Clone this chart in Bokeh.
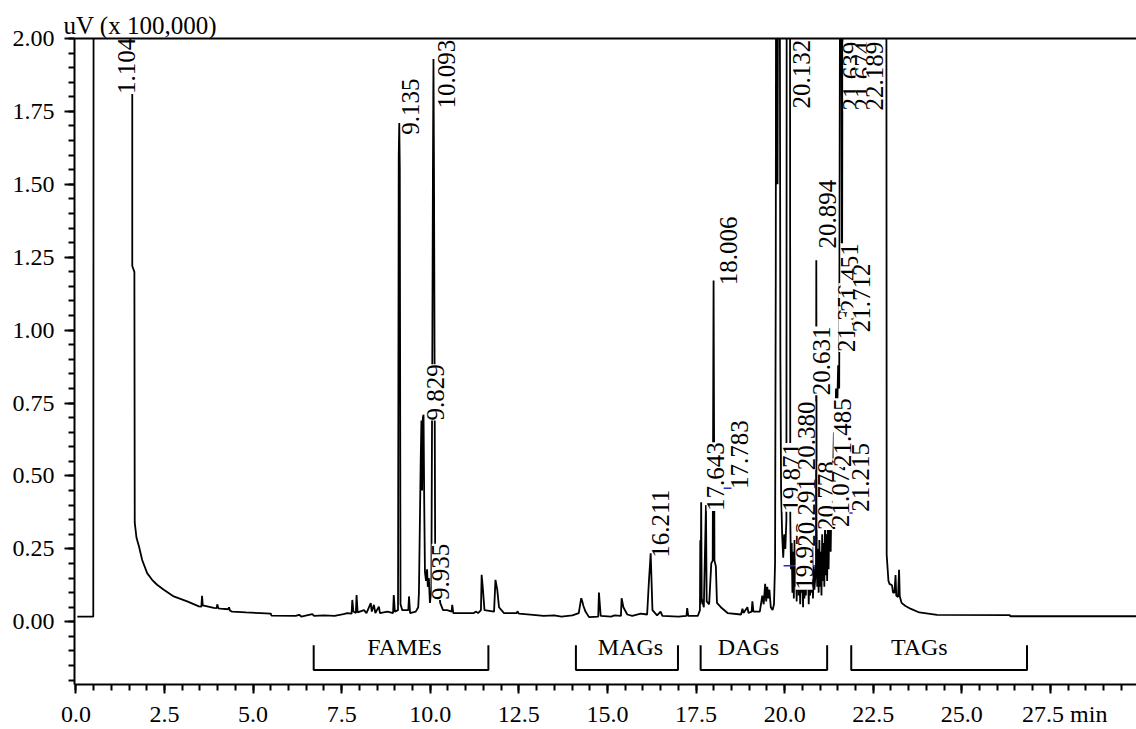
import math
from bokeh.plotting import figure
from bokeh.models import (FixedTicker, NumeralTickFormatter, LinearAxis,
                          ColumnDataSource, Range1d)
from bokeh.core.properties import value
from bokeh.embed import file_html
from bokeh.resources import INLINE

FONT = "Liberation Serif"

# ---------------- chromatogram trace (min, uV x 100,000) ----------------
time_min = [
    0.04, 0.49, 0.50, 1.59, 1.59, 1.65, 1.66, 1.71, 1.78, 1.87, 2.01, 2.15, 2.29, 2.48,
    2.76, 3.14, 3.47, 3.54, 3.56, 3.58, 3.89, 3.97, 3.99, 4.02, 4.08, 4.30, 4.32, 4.35,
    4.41, 4.80, 5.21, 5.50, 5.52, 6.20, 6.30, 6.36, 6.67, 6.72, 7.00, 7.30, 7.55, 7.66,
    7.78, 7.80, 7.83, 7.90, 7.92, 7.95, 8.13, 8.20, 8.32, 8.35, 8.41, 8.45, 8.55, 8.58,
    8.79, 8.95, 8.97, 9.00, 9.09, 9.11, 9.125, 9.14, 9.16, 9.21, 9.38, 9.40, 9.43, 9.59,
    9.66, 9.68, 9.70, 9.73, 9.75, 9.77, 9.79, 9.81, 9.83, 9.85, 9.88, 9.91, 9.93, 9.96,
    9.99, 10.03, 10.06, 10.075, 10.09, 10.105, 10.12, 10.14, 10.17, 10.21, 10.24, 10.28,
    10.36, 10.48, 10.60, 10.62, 10.65, 11.23, 11.28, 11.35, 11.43, 11.45, 11.48, 11.53,
    11.80, 11.84, 11.89, 11.94, 12.08, 12.44, 12.46, 12.50, 12.90, 13.20, 13.50, 13.70,
    14.01, 14.19, 14.26, 14.29, 14.32, 14.38, 14.48, 14.74, 14.76, 14.81, 15.10, 15.20,
    15.38, 15.40, 15.45, 15.56, 15.70, 15.94, 16.12, 16.17, 16.22, 16.27, 16.40, 16.50,
    16.55, 17.00, 17.23, 17.25, 17.28, 17.55, 17.61, 17.62, 17.63, 17.645, 17.66, 17.72,
    17.78, 17.80, 17.87, 17.93, 17.97, 17.995, 18.02, 18.06, 18.09, 18.20, 18.39, 18.77,
    18.81, 18.84, 18.95, 18.98, 19.07, 19.09, 19.12, 19.30, 19.37, 19.41, 19.45, 19.48,
    19.51, 19.54, 19.57, 19.61, 19.66, 19.70, 19.73, 19.75, 19.76, 19.79, 19.80, 19.82,
    19.86, 19.88, 19.90, 19.93, 19.96, 19.99, 20.02, 20.05, 20.06, 20.15, 20.16, 20.18,
    20.20, 20.22, 20.24, 20.26, 20.28, 20.30, 20.32, 20.34, 20.36, 20.38, 20.40, 20.42,
    20.44, 20.46, 20.48, 20.50, 20.52, 20.54, 20.56, 20.58, 20.60, 20.62, 20.64, 20.66,
    20.68, 20.70, 20.72, 20.74, 20.76, 20.78, 20.80, 20.82, 20.84, 20.87, 20.885, 20.894,
    20.905, 20.92, 20.94, 20.96, 20.98, 21.00, 21.02, 21.04, 21.06, 21.08, 21.10, 21.12,
    21.14, 21.16, 21.18, 21.20, 21.22, 21.24, 21.27, 21.30, 21.33, 21.36, 21.39, 21.42,
    21.45, 21.48, 21.51, 21.54, 21.57, 21.60, 21.62, 21.64, 22.87, 22.88, 22.93, 22.96,
    23.03, 23.06, 23.10, 23.13, 23.15, 23.20, 23.23, 23.25, 23.30, 23.40, 23.55, 23.80,
    24.30, 26.35, 26.37, 29.95,
]
signal = [
    0.018, 0.018, 2.60, 2.60, 1.22, 1.20, 0.340, 0.288, 0.258, 0.212, 0.167, 0.144, 0.127, 0.110,
    0.087, 0.070, 0.053, 0.052, 0.089, 0.056, 0.048, 0.047, 0.060, 0.046, 0.045, 0.043, 0.050, 0.038,
    0.035, 0.032, 0.030, 0.028, 0.021, 0.020, 0.024, 0.018, 0.026, 0.020, 0.022, 0.020, 0.026, 0.030,
    0.028, 0.075, 0.035, 0.030, 0.092, 0.032, 0.040, 0.030, 0.064, 0.035, 0.058, 0.030, 0.052, 0.030,
    0.035, 0.030, 0.092, 0.035, 0.040, 1.60, 1.71, 1.55, 0.060, 0.040, 0.040, 0.087, 0.030, 0.035,
    0.050, 0.100, 0.280, 0.550, 0.690, 0.450, 0.700, 0.710, 0.400, 0.170, 0.140, 0.180, 0.120, 0.150,
    0.065, 0.100, 1.00, 1.55, 1.93, 1.55, 0.950, 0.160, 0.140, 0.110, 0.130, 0.065,
    0.040, 0.040, 0.035, 0.058, 0.030, 0.030, 0.035, 0.030, 0.040, 0.161, 0.120, 0.040,
    0.035, 0.144, 0.110, 0.050, 0.030, 0.030, 0.036, 0.028, 0.024, 0.020, 0.022, 0.018,
    0.022, 0.030, 0.081, 0.070, 0.055, 0.035, 0.016, 0.018, 0.100, 0.020, 0.018, 0.022,
    0.020, 0.081, 0.050, 0.025, 0.020, 0.028, 0.025, 0.138, 0.235, 0.040, 0.022, 0.035,
    0.020, 0.018, 0.020, 0.047, 0.020, 0.020, 0.040, 0.280, 0.060, 0.410, 0.080, 0.050,
    0.400, 0.070, 0.060, 0.200, 0.210, 1.17, 0.210, 0.190, 0.065, 0.050, 0.030, 0.025,
    0.045, 0.030, 0.050, 0.030, 0.035, 0.070, 0.035, 0.035, 0.090, 0.060, 0.130, 0.070,
    0.120, 0.080, 0.110, 0.050, 0.040, 0.060, 0.200, 1.20, 2.60, 2.60, 1.50, 2.60,
    2.60, 0.900, 0.450, 0.300, 0.220, 0.300, 0.250, 0.350, 2.60, 2.60, 0.350, 0.180,
    0.270, 0.100, 0.240, 0.080, 0.280, 0.120, 0.220, 0.070, 0.200, 0.300, 0.090, 0.180,
    0.060, 0.210, 0.100, 0.170, 0.050, 0.190, 0.080, 0.230, 0.090, 0.260, 0.110, 0.200,
    0.060, 0.180, 0.090, 0.220, 0.100, 0.270, 0.080, 0.190, 0.110, 0.160, 0.200, 1.24,
    0.220, 0.120, 0.250, 0.100, 0.280, 0.120, 0.240, 0.090, 0.300, 0.140, 0.270, 0.120,
    0.330, 0.160, 0.300, 0.140, 0.360, 0.180, 0.400, 0.240, 0.500, 0.450, 0.650, 0.550,
    0.800, 0.700, 0.880, 0.800, 2.60, 2.60, 1.05, 2.60, 2.60, 0.230, 0.140, 0.130,
    0.125, 0.100, 0.100, 0.160, 0.090, 0.085, 0.178, 0.087, 0.065, 0.055, 0.045, 0.032,
    0.024, 0.023, 0.019, 0.019,
]

# ---------------- retention-time labels ----------------
peak_labels = ["1.104", "9.135", "10.093", "9.829", "9.935", "16.211", "17.643", "17.783",
               "18.006", "19.871", "19.952", "20.132", "20.291", "20.380", "20.631", "20.778",
               "20.894", "21.074", "21.215", "21.485", "21.359", "21.451", "21.712", "21.639",
               "21.674", "22.189"]
label_time = [1.20, 9.19, 10.23, 9.92, 10.04, 16.27, 17.80, 18.50,
              18.19, 19.94, 20.31, 20.23, 20.37, 20.39, 20.79, 20.93,
              20.96, 21.35, 21.89, 21.38, 21.52, 21.58, 21.94, 21.66,
              22.00, 22.31]
label_height = [1.810, 1.670, 1.760, 0.690, 0.075, 0.220, 0.380, 0.455,
                1.154, 0.377, 0.110, 1.760, 0.257, 0.520, 0.777, 0.315,
                1.280, 0.325, 0.377, 0.531, 0.925, 1.062, 0.993, 1.753,
                1.753, 1.753]

# integration baselines (blue)
base_t0 = [18.10, 19.97, 21.49]
base_t1 = [18.62, 20.87, 21.92]
base_y0 = [0.458, 0.192, 0.373]
base_y1 = [0.458, 0.192, 0.373]

# ---------------- lipid class groups ----------------
group_names = ["FAMEs", "MAGs", "DAGs", "TAGs"]
group_start = [6.71, 14.11, 17.63, 21.88]
group_end = [11.64, 16.99, 21.20, 26.84]
group_text_time = [9.27, 15.65, 18.98, 23.80]
group_top = -0.080
group_bottom = -0.165
group_text_y = -0.086

# ---------------- axes ----------------
x_ticks = [0.0, 2.5, 5.0, 7.5, 10.0, 12.5, 15.0, 17.5, 20.0, 22.5, 25.0, 27.5]
x_minor = [i * 0.5 for i in range(0, 60)]
y_ticks = [0.0, 0.25, 0.5, 0.75, 1.0, 1.25, 1.5, 1.75, 2.0]
y_minor = [round(-0.20 + i * 0.05, 2) for i in range(0, 45)]
y_unit_text = "uV (x 100,000)"
x_last_label = "\u2003\u200927.5 min"

p = figure(width=1136, height=729, output_backend="svg", toolbar_location=None,
           x_range=Range1d(-0.04, 29.93), y_range=Range1d(-0.215, 2.0),
           min_border_left=74, min_border_right=0, min_border_top=38, min_border_bottom=44,
           title=y_unit_text)
p.outline_line_color = None
p.grid.visible = False
p.background_fill_color = "white"
p.border_fill_color = "white"

p.title.align = "left"
p.title.offset = -11
p.title.standoff = 0
p.title.text_font = FONT
p.title.text_font_size = "25px"
p.title.text_font_style = "normal"
p.title.text_color = "black"

for ax in (p.xaxis[0], p.yaxis[0]):
    ax.axis_line_width = 2
    ax.axis_line_color = "black"
    ax.major_tick_line_width = 2
    ax.minor_tick_line_width = 2
    ax.major_tick_line_color = "black"
    ax.minor_tick_line_color = "black"
    ax.major_tick_in = 0
    ax.minor_tick_in = 0
    ax.major_label_text_font = FONT
    ax.major_label_text_font_size = "24px"
    ax.major_label_text_color = "black"

p.xaxis.ticker = FixedTicker(ticks=x_ticks, minor_ticks=x_minor)
p.xaxis.formatter = NumeralTickFormatter(format="0.0")
p.xaxis.major_label_overrides = {x_ticks[-1]: x_last_label}
p.xaxis.major_tick_out = 9
p.xaxis.minor_tick_out = 6
p.xaxis.major_label_standoff = 7

p.yaxis.ticker = FixedTicker(ticks=y_ticks, minor_ticks=y_minor)
p.yaxis.formatter = NumeralTickFormatter(format="0.00")
p.yaxis.major_tick_out = 10
p.yaxis.minor_tick_out = 6
p.yaxis.major_label_standoff = 10

top_axis = LinearAxis(ticker=FixedTicker(ticks=[]), axis_line_width=2, axis_line_color="black",
                      major_tick_out=0, major_tick_in=0, minor_tick_out=0, minor_tick_in=0)
p.add_layout(top_axis, "above")

# trace
p.line(time_min, signal, line_color="black", line_width=1.8, line_join="bevel")

# integration baselines
p.segment(x0=base_t0, y0=base_y0, x1=base_t1, y1=base_y1, line_color="#2b2bbf", line_width=1.5)

# peak labels
lab_src = ColumnDataSource(dict(t=label_time, y=label_height, text=peak_labels))
p.text(x="t", y="y", text="text", source=lab_src, angle=math.pi / 2,
       text_align="left", text_baseline="top", text_font=value(FONT),
       text_font_size="25px", text_color="black",
       background_fill_color="white", background_fill_alpha=1.0)

# group brackets
bx = [[s, s, e, e] for s, e in zip(group_start, group_end)]
by = [[group_top, group_bottom, group_bottom, group_top] for _ in group_names]
p.multi_line(bx, by, line_color="black", line_width=2)
p.text(x=group_text_time, y=[group_text_y] * len(group_names), text=group_names,
       text_align="center", text_baseline="middle", text_font=value(FONT),
       text_font_size="24px", text_color="black")

open("out.html", "w").write(file_html(p, INLINE))
